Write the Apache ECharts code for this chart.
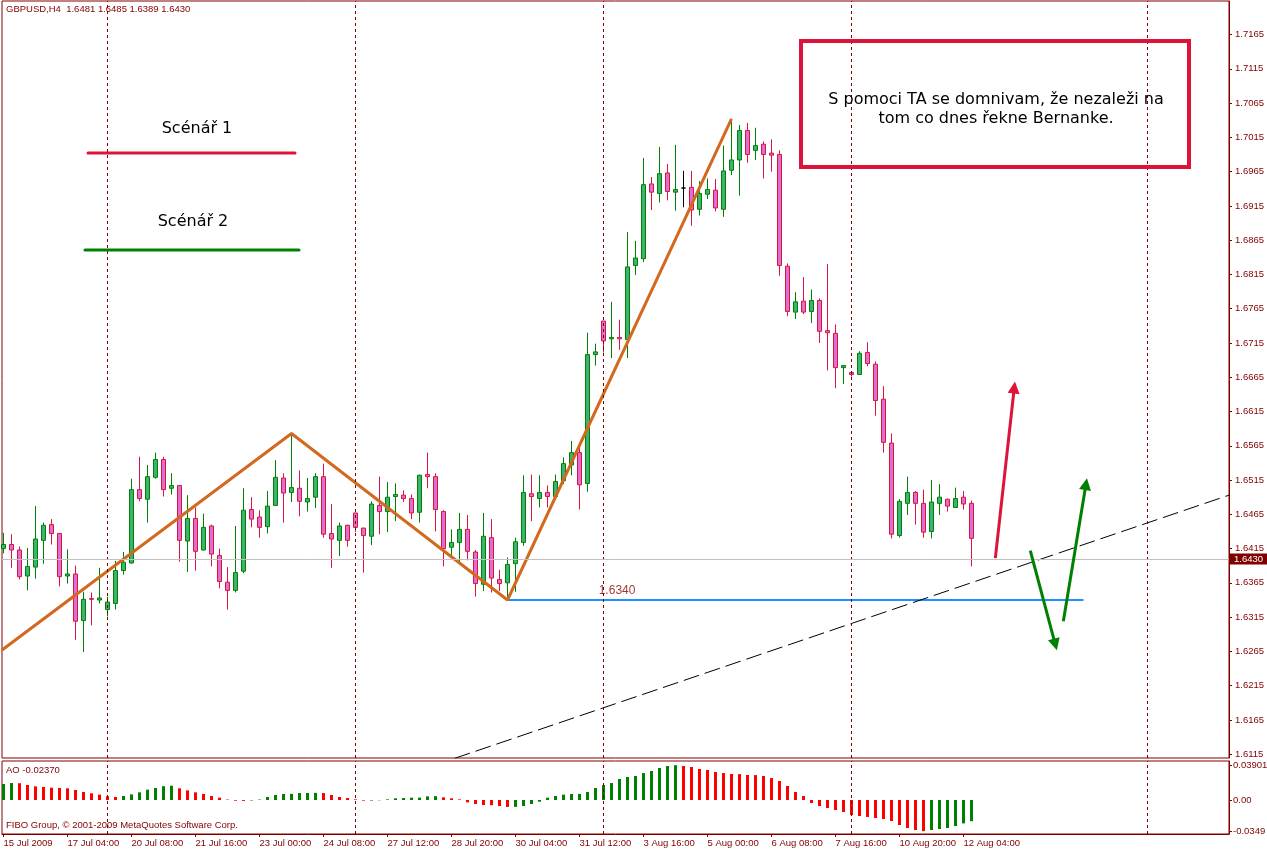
<!DOCTYPE html>
<html><head><meta charset="utf-8">
<script src="https://cdn.jsdelivr.net/npm/echarts@6/dist/echarts.min.js"></script>
<style>html,body{margin:0;padding:0;background:#fff}#c{width:1267px;height:851px}</style>
</head><body><div id="c"></div>
<script>
// ---- GBPUSD H4 candles (bar index 0 = 15 Jul 2009 20:00) ----
const opens = [1.6415,1.6421,1.6413,1.6375,1.6388,1.6427,1.6450,1.6437,1.6375,1.6378,
1.6310,1.6342,1.6340,1.6326,1.6335,1.6383,1.6394,1.6501,1.6487,1.6519,
1.6545,1.6503,1.6507,1.6426,1.6459,1.6413,1.6448,1.6405,1.6366,1.6354,
1.6382,1.6472,1.6461,1.6447,1.6478,1.6518,1.6497,1.6503,1.6483,1.6490,
1.6520,1.6437,1.6427,1.6449,1.6467,1.6445,1.6433,1.6478,1.6469,1.6491,
1.6493,1.6488,1.6468,1.6523,1.6520,1.6469,1.6417,1.6424,1.6443,1.6410,
1.6363,1.6431,1.6370,1.6365,1.6393,1.6424,1.6495,1.6488,1.6497,1.6491,
1.6514,1.6537,1.6555,1.6510,1.6698,1.6747,1.6721,1.6723,1.6720,1.6828,
1.6838,1.6947,1.6933,1.6963,1.6935,1.6941,1.6942,1.6910,1.6932,1.6938,
1.6910,1.6967,1.6982,1.7025,1.6996,1.7005,1.6992,1.6990,1.6827,1.6760,
1.6776,1.6761,1.6777,1.6733,1.6729,1.6679,1.6672,1.6669,1.6701,1.6684,
1.6633,1.6569,1.6434,1.6481,1.6497,1.6481,1.6440,1.6481,1.6487,1.6475,
1.6490,1.6481];
const highs = [1.6438,1.6436,1.6418,1.6416,1.6477,1.6453,1.6458,1.6438,1.6414,1.6390,
1.6352,1.6351,1.6387,1.6345,1.6397,1.6410,1.6517,1.6549,1.6537,1.6555,
1.6549,1.6525,1.6508,1.6493,1.6475,1.6466,1.6450,1.6415,1.6388,1.6448,
1.6503,1.6490,1.6471,1.6499,1.6544,1.6525,1.6583,1.6529,1.6518,1.6525,
1.6539,1.6480,1.6453,1.6450,1.6467,1.6445,1.6484,1.6520,1.6512,1.6510,
1.6500,1.6494,1.6523,1.6555,1.6525,1.6471,1.6443,1.6467,1.6464,1.6413,
1.6467,1.6458,1.6384,1.6402,1.6431,1.6522,1.6523,1.6522,1.6507,1.6523,
1.6548,1.6572,1.6570,1.6730,1.6714,1.6747,1.6775,1.6749,1.6877,1.6864,
1.6985,1.6957,1.7001,1.6976,1.7004,1.6966,1.6966,1.6951,1.6955,1.6954,
1.7003,1.7042,1.7033,1.7036,1.7029,1.7009,1.7012,1.6996,1.6831,1.6789,
1.6811,1.6793,1.6780,1.6830,1.6742,1.6682,1.6673,1.6703,1.6716,1.6688,
1.6652,1.6583,1.6487,1.6520,1.6499,1.6501,1.6515,1.6509,1.6488,1.6504,
1.6499,1.6485];
const lows = [1.6408,1.6387,1.6370,1.6354,1.6371,1.6393,1.6421,1.6360,1.6364,1.6282,
1.6264,1.6303,1.6335,1.6316,1.6326,1.6377,1.6393,1.6484,1.6453,1.6517,
1.6491,1.6494,1.6396,1.6381,1.6383,1.6412,1.6389,1.6357,1.6326,1.6351,
1.6379,1.6446,1.6431,1.6437,1.6477,1.6453,1.6483,1.6462,1.6469,1.6474,
1.6431,1.6387,1.6404,1.6418,1.6439,1.6380,1.6420,1.6436,1.6439,1.6455,
1.6483,1.6458,1.6453,1.6503,1.6440,1.6389,1.6402,1.6394,1.6398,1.6345,
1.6353,1.6351,1.6353,1.6340,1.6352,1.6419,1.6455,1.6475,1.6475,1.6486,
1.6509,1.6522,1.6472,1.6498,1.6682,1.6701,1.6693,1.6705,1.6693,1.6814,
1.6833,1.6909,1.6920,1.6923,1.6908,1.6913,1.6886,1.6901,1.6925,1.6907,
1.6899,1.6960,1.6930,1.6978,1.6982,1.6955,1.6965,1.6813,1.6754,1.6750,
1.6757,1.6744,1.6715,1.6675,1.6649,1.6655,1.6666,1.6669,1.6681,1.6609,
1.6555,1.6430,1.6431,1.6464,1.6450,1.6431,1.6430,1.6464,1.6469,1.6475,
1.6472,1.6389];
const closes = [1.6421,1.6413,1.6374,1.6389,1.6429,1.6449,1.6437,1.6374,1.6378,1.6309,
1.6341,1.6341,1.6343,1.6337,1.6383,1.6395,1.6501,1.6488,1.6520,1.6545,
1.6501,1.6507,1.6427,1.6459,1.6411,1.6446,1.6407,1.6367,1.6354,1.6380,
1.6471,1.6458,1.6446,1.6477,1.6519,1.6496,1.6504,1.6484,1.6488,1.6520,
1.6436,1.6429,1.6448,1.6427,1.6446,1.6434,1.6480,1.6469,1.6490,1.6494,
1.6488,1.6467,1.6522,1.6520,1.6472,1.6415,1.6424,1.6443,1.6411,1.6364,
1.6433,1.6372,1.6364,1.6392,1.6425,1.6497,1.6491,1.6497,1.6491,1.6513,
1.6539,1.6555,1.6508,1.6698,1.6702,1.6718,1.6723,1.6721,1.6826,1.6839,
1.6946,1.6935,1.6962,1.6936,1.6939,1.6941,1.6909,1.6933,1.6939,1.6912,
1.6966,1.6982,1.7025,1.6990,1.7003,1.6990,1.6989,1.6828,1.6761,1.6775,
1.6760,1.6777,1.6732,1.6730,1.6679,1.6682,1.6669,1.6700,1.6685,1.6631,
1.6570,1.6436,1.6484,1.6497,1.6481,1.6439,1.6483,1.6490,1.6477,1.6488,
1.6480,1.6430];
const blackDojiBars = [85];

// ---- Awesome Oscillator ----
const aoValues = [0.0179,0.0190,0.0188,0.0168,0.0153,0.0146,0.0138,0.0134,0.0131,0.0112,
0.0090,0.0075,0.0060,0.0041,0.0034,0.0045,0.0063,0.0086,0.0116,0.0134,
0.0155,0.0160,0.0131,0.0108,0.0086,0.0067,0.0045,0.0026,0.0005,-0.0008,
-0.0010,-0.0005,0.0005,0.0034,0.0056,0.0067,0.0069,0.0078,0.0079,0.0080,
0.0078,0.0056,0.0034,0.0022,0.0007,-0.0007,-0.0006,-0.0003,0.0007,0.0019,
0.0022,0.0026,0.0027,0.0041,0.0043,0.0030,0.0019,0.0007,-0.0026,-0.0045,
-0.0056,-0.0058,-0.0067,-0.0078,-0.0077,-0.0067,-0.0045,-0.0019,0.0026,0.0045,
0.0060,0.0067,0.0068,0.0090,0.0134,0.0168,0.0190,0.0235,0.0258,0.0269,
0.0302,0.0325,0.0358,0.0381,0.03901,0.0381,0.0370,0.0347,0.0336,0.0314,
0.0302,0.0291,0.0290,0.0280,0.0279,0.0269,0.0246,0.0213,0.0157,0.0090,
0.0045,-0.0034,-0.0067,-0.0090,-0.0112,-0.0134,-0.0168,-0.0179,-0.0190,-0.0202,
-0.0213,-0.0235,-0.0280,-0.0314,-0.0336,-0.0349,-0.0336,-0.0325,-0.0314,-0.0291,
-0.0262,-0.0237];

// ---- axes ----
const priceTicks = [1.6115,1.6165,1.6215,1.6265,1.6315,1.6365,1.6415,1.6465,1.6515,1.6565,
1.6615,1.6665,1.6715,1.6765,1.6815,1.6865,1.6915,1.6965,1.7015,1.7065,1.7115,1.7165];
const timeTickBars = [0,8,16,24,32,40,48,56,64,72,80,88,96,104,112,120];
const timeTickLabels = ['15 Jul 2009','17 Jul 04:00','20 Jul 08:00','21 Jul 16:00','23 Jul 00:00',
'24 Jul 08:00','27 Jul 12:00','28 Jul 20:00','30 Jul 04:00','31 Jul 12:00','3 Aug 16:00',
'5 Aug 00:00','6 Aug 08:00','7 Aug 16:00','10 Aug 20:00','12 Aug 04:00'];
const aoTicks = [0.03901, 0, -0.0349];
const aoTickLabels = ['0.03901', '0.00', '-0.0349'];
const gridBars = [13, 44, 75, 106, 143];
const lastPrice = 1.6430;

// ---- drawn objects (bar index, price) ----
const zigzag = [[-0.1875,1.6267],[36,1.6583],[63,1.6340],[91,1.7042]];
const supportLevel = 1.6340;
const supportLine = [[63,1.6340],[135,1.6340]];
const supportLabelAt = [74.4, 1.6340];
const trendLine = [[56.4,1.6109],[153.2,1.6493]];
const scenario1Arrow = [[123.98,1.6401],[126.35,1.6650]];
const scenario2Down = [[128.35,1.6412],[131.48,1.6275]];
const scenario2Up = [[132.48,1.6309],[135.31,1.6509]];

const MAROON = '#800000';
const FONT = 'Liberation Sans';

const candleData = opens.map((o, i) => {
  const item = { value: [i, o, closes[i], lows[i], highs[i]] };
  if (blackDojiBars.includes(i)) {
    item.itemStyle = { color: '#000', color0: '#000', borderColor: '#000', borderColor0: '#000' };
  }
  return item;
});
const aoData = aoValues.map((v, i) => ({
  value: [i, v],
  itemStyle: { color: (i === 0 || v > aoValues[i - 1]) ? '#008000' : '#FF0000' }
}));

function arrowMark(seg, color) {
  return {
    silent: true, symbol: ['none', 'triangle'], symbolSize: [12, 12],
    lineStyle: { color: color, width: 3, type: 'solid' },
    itemStyle: { color: color },
    label: { show: false },
    data: [[{ coord: seg[0] }, { coord: seg[1] }]]
  };
}

const chart = echarts.init(document.getElementById('c'));
chart.setOption({
  animation: false,
  backgroundColor: '#fff',
  grid: [
    { left: 2, top: 1, width: 1227, height: 757, show: true, borderColor: MAROON, borderWidth: 1,
      backgroundColor: 'transparent', containLabel: false, outerBoundsMode: 'none' },
    { left: 2, top: 761, width: 1227, height: 73, show: true, borderColor: MAROON, borderWidth: 1,
      backgroundColor: 'transparent', containLabel: false, outerBoundsMode: 'none' }
  ],
  xAxis: [
    { type: 'value', gridIndex: 0, min: -0.1875, max: 153.1875, show: false, axisLine: { onZero: false } },
    { type: 'value', gridIndex: 1, min: -0.1875, max: 153.1875, position: 'bottom',
      axisLine: { show: true, onZero: false, lineStyle: { color: MAROON } },
      axisTick: { show: true, inside: false, customValues: timeTickBars, length: 3, lineStyle: { color: MAROON } },
      axisLabel: { show: true, customValues: timeTickBars, align: 'left', margin: 4,
        color: MAROON, fontSize: 9.5, fontFamily: FONT,
        formatter: v => timeTickLabels[timeTickBars.indexOf(Math.round(v))] || '' },
      splitLine: { show: false } }
  ],
  yAxis: [
    { type: 'value', gridIndex: 0, position: 'right', min: 1.61095, max: 1.72139,
      axisLine: { show: true, onZero: false, lineStyle: { color: MAROON } },
      axisTick: { show: true, inside: false, customValues: priceTicks, length: 3, lineStyle: { color: MAROON } },
      axisLabel: { show: true, customValues: priceTicks, margin: 6, color: MAROON, fontSize: 9.5, fontFamily: FONT,
        formatter: v => v.toFixed(4) },
      splitLine: { show: false } },
    { type: 'value', gridIndex: 1, position: 'right', min: -0.03807, max: 0.04367,
      axisLine: { show: true, onZero: false, lineStyle: { color: MAROON } },
      axisTick: { show: true, inside: false, customValues: aoTicks, length: 3, lineStyle: { color: MAROON } },
      axisLabel: { show: true, customValues: aoTicks, margin: 4, color: MAROON, fontSize: 9.5, fontFamily: FONT,
        formatter: v => aoTickLabels[aoTicks.findIndex(t => Math.abs(t - v) < 1e-7)] || '' },
      splitLine: { show: false } }
  ],
  series: [
    { type: 'candlestick', xAxisIndex: 0, yAxisIndex: 0, barWidth: 5,
      encode: { x: 0, y: [1, 2, 3, 4] },
      itemStyle: { color: '#3CB371', color0: '#DA70D6', borderColor: '#008000', borderColor0: '#DC143C', borderWidth: 1 },
      data: candleData,
      markLine: {
        silent: true, symbol: 'none', animation: false,
        data: [
          ...gridBars.map(b => ({ xAxis: b, lineStyle: { color: MAROON, type: [3, 3], width: 1 }, label: { show: false } })),
          { yAxis: lastPrice, lineStyle: { color: '#C0C0C0', type: 'solid', width: 1 },
            label: { show: true, position: 'end', distance: 1, formatter: lastPrice.toFixed(4),
              backgroundColor: MAROON, color: '#fff', padding: [1, 4, 0, 4], fontSize: 9.5, fontFamily: FONT } }
        ]
      },
      z: 2 },
    { type: 'line', xAxisIndex: 0, yAxisIndex: 0, data: supportLine, symbol: 'none',
      lineStyle: { color: '#1E90FF', width: 2 }, z: 3, silent: true },
    { type: 'scatter', xAxisIndex: 0, yAxisIndex: 0, data: [supportLabelAt], symbolSize: 0, z: 3, silent: true,
      label: { show: true, position: 'right', distance: 0, offset: [0, -9], formatter: supportLevel.toFixed(4),
        color: '#8B0000', fontSize: 12, fontFamily: FONT } },
    { type: 'line', xAxisIndex: 0, yAxisIndex: 0, data: trendLine, symbol: 'none',
      lineStyle: { color: '#000', width: 1, type: [16, 6] }, z: 3, silent: true },
    { type: 'line', xAxisIndex: 0, yAxisIndex: 0, data: zigzag, symbol: 'none',
      lineStyle: { color: '#D2691E', width: 3 }, z: 4, silent: true },
    { type: 'line', xAxisIndex: 0, yAxisIndex: 0, data: [], z: 5, silent: true,
      markLine: arrowMark(scenario1Arrow, '#DC143C') },
    { type: 'line', xAxisIndex: 0, yAxisIndex: 0, data: [], z: 5, silent: true,
      markLine: arrowMark(scenario2Down, '#008000') },
    { type: 'line', xAxisIndex: 0, yAxisIndex: 0, data: [], z: 5, silent: true,
      markLine: arrowMark(scenario2Up, '#008000') },
    { type: 'bar', xAxisIndex: 1, yAxisIndex: 1, barWidth: 3, data: aoData, silent: true,
      markLine: { silent: true, symbol: 'none',
        data: gridBars.map(b => ({ xAxis: b })),
        lineStyle: { color: MAROON, type: [3, 3], width: 1 }, label: { show: false } } }
  ],
  graphic: [
    { type: 'text', left: 6, top: 4, silent: true,
      style: { text: 'GBPUSD,H4  1.6481 1.6485 1.6389 1.6430', fill: MAROON, font: '9.5px "Liberation Sans"' } },
    { type: 'text', left: 6, top: 765, silent: true,
      style: { text: 'AO -0.02370', fill: MAROON, font: '9.5px "Liberation Sans"' } },
    { type: 'text', left: 6, top: 820, silent: true,
      style: { text: 'FIBO Group, © 2001-2009 MetaQuotes Software Corp.', fill: MAROON, font: '9.5px "Liberation Sans"' } },
    { type: 'text', silent: true, z: 10,
      style: { text: 'Scénář 1', x: 197, y: 129, align: 'center', verticalAlign: 'middle', fill: '#000', font: '16px "DejaVu Sans"' } },
    { type: 'line', silent: true, z: 10,
      shape: { x1: 88, y1: 153, x2: 295, y2: 153 }, style: { stroke: '#DC143C', lineWidth: 3, lineCap: 'round' } },
    { type: 'text', silent: true, z: 10,
      style: { text: 'Scénář 2', x: 193, y: 222, align: 'center', verticalAlign: 'middle', fill: '#000', font: '16px "DejaVu Sans"' } },
    { type: 'line', silent: true, z: 10,
      shape: { x1: 85, y1: 250, x2: 299, y2: 250 }, style: { stroke: '#008000', lineWidth: 3, lineCap: 'round' } },
    { type: 'rect', silent: true, z: 10,
      shape: { x: 801, y: 41, width: 388, height: 126 }, style: { fill: 'none', stroke: '#DC143C', lineWidth: 4 } },
    { type: 'text', silent: true, z: 10,
      style: { text: 'S pomoci TA se domnivam, že nezaleži na\ntom co dnes řekne Bernanke.', x: 996, y: 109,
        align: 'center', verticalAlign: 'middle', lineHeight: 19, fill: '#000', font: '16px "DejaVu Sans"' } }
  ]
});
</script>
</body></html>
